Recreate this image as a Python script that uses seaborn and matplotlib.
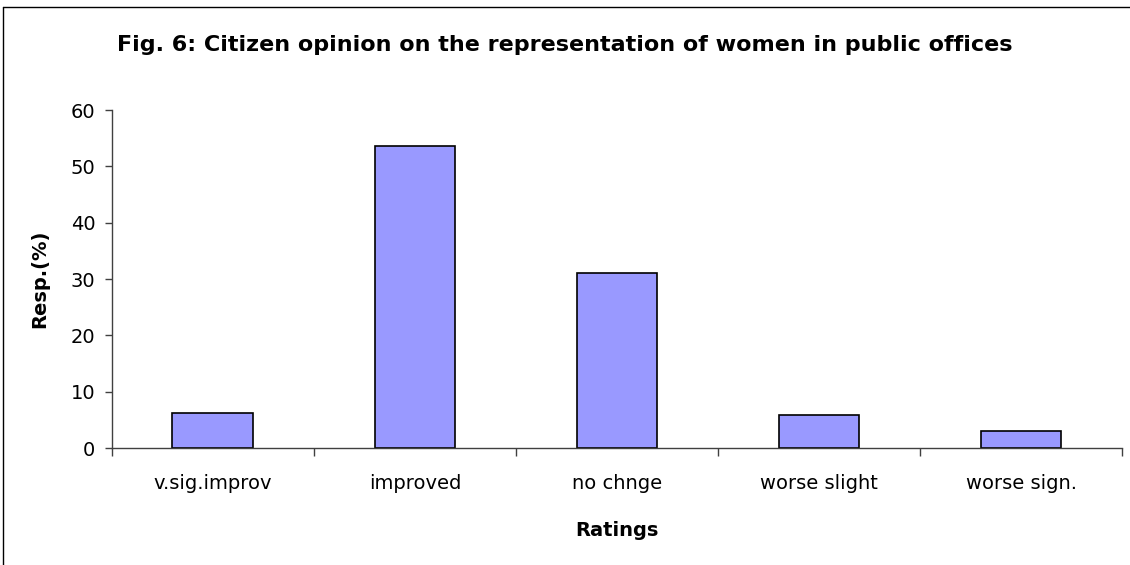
import numpy as np
import pandas as pd
import seaborn as sns
import matplotlib.pyplot as plt
from matplotlib.lines import Line2D

categorias = ['v.sig.improv', 'improved', 'no chnge', 'worse slight', 'worse sign.']
valores = [6.2, 53.6, 31.0, 5.9, 3.0]

df = pd.DataFrame({'Ratings': categorias, 'Resp': valores})

sns.set_style('white')
plt.rcParams['font.family'] = ['DejaVu Sans']

fig = plt.figure(figsize=(11.3, 5.65), dpi=100)
ax = fig.add_axes([0.099, 0.207, 0.894, 0.598])

sns.barplot(data=df, x='Ratings', y='Resp', color='#9999ff', saturation=1,
            edgecolor='black', linewidth=1.2, width=0.4, ax=ax)

ax.set_ylim(0, 60)
ax.set_yticks(range(0, 61, 10))
ax.set_xlim(-0.5, len(categorias) - 0.5)

# ticks do eixo x ficam entre as categorias
ax.set_xticks(np.arange(-0.5, len(categorias), 1), minor=False)
ax.set_xticklabels([''] * (len(categorias) + 1))
ax.set_xticks(range(len(categorias)), minor=True)
ax.set_xticklabels(categorias, minor=True)
ax.tick_params(axis='x', which='major', bottom=True, direction='out', length=6, width=1, color='#404040')
ax.tick_params(axis='x', which='minor', bottom=True, length=0, pad=19, labelsize=14, labelcolor='black')
ax.tick_params(axis='y', left=True, direction='out', length=5, width=1, color='#404040',
               labelsize=14, labelcolor='black', pad=7)

for s in ['top', 'right']:
    ax.spines[s].set_visible(False)
for s in ['left', 'bottom']:
    ax.spines[s].set_color('#404040')
    ax.spines[s].set_linewidth(1)

ax.set_xlabel('Ratings', fontsize=14, fontweight='bold', labelpad=20, color='black')
ax.set_ylabel('Resp.(%)', fontsize=14, fontweight='bold', labelpad=15, color='black')

fig.text(0.5, 0.92, 'Fig. 6: Citizen opinion on the representation of women in public offices',
         ha='center', va='center', fontsize=16, fontweight='bold', color='black')

# borda do quadro (só topo e esquerda aparecem)
fig.add_artist(Line2D([0.003, 1], [0.988, 0.988], color='black', linewidth=1, transform=fig.transFigure))
fig.add_artist(Line2D([0.003, 0.003], [0, 0.988], color='black', linewidth=1, transform=fig.transFigure))

fig.savefig('out.png', dpi=100)
